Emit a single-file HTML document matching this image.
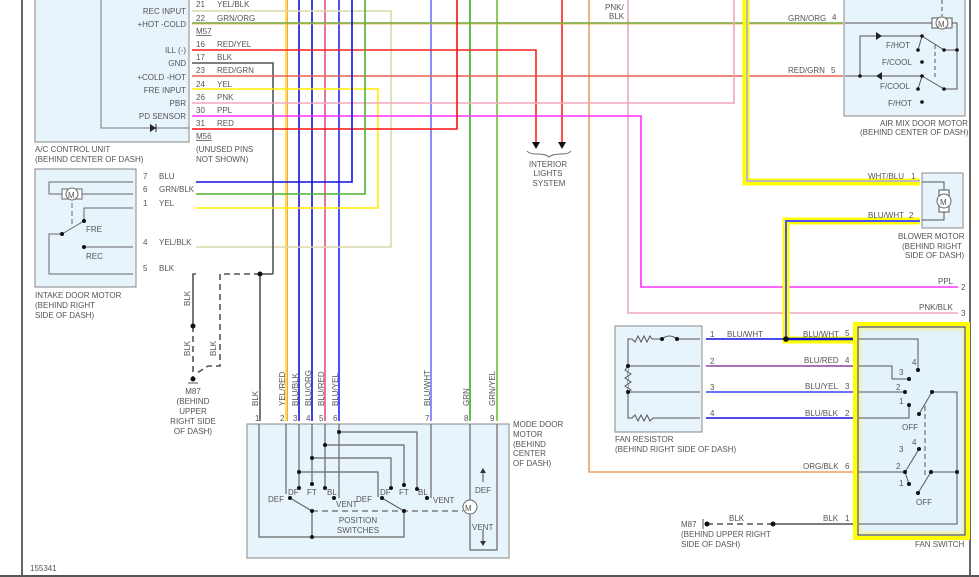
<!DOCTYPE html>
<html><head><meta charset="utf-8"><style>
html,body{margin:0;padding:0;background:#fff}
svg{display:block}
text{font-family:"Liberation Sans",sans-serif;font-size:8px;fill:#555}
</style></head><body>
<svg width="979" height="577" viewBox="0 0 979 577" xmlns="http://www.w3.org/2000/svg">
<rect width="979" height="577" fill="#fff"/>
<!-- frame -->
<line x1="22" y1="0" x2="22" y2="577" stroke="#333" stroke-width="1.5"/>
<line x1="970" y1="0" x2="970" y2="577" stroke="#333" stroke-width="1.5"/>
<line x1="0" y1="576" x2="979" y2="576" stroke="#555" stroke-width="2"/>

<!-- A/C control unit -->
<rect x="35" y="-5" width="154" height="147" fill="#e8f4fc" stroke="#888"/>
<polyline points="101,-5 101,128 189,128" fill="none" stroke="#777"/>
<polygon points="150,124 156,128 150,132" fill="#222"/><line x1="156" y1="124" x2="156" y2="132" stroke="#222"/>
<g text-anchor="end">
<text x="186" y="14">REC INPUT</text><text x="186" y="27">+HOT -COLD</text>
<text x="186" y="53">ILL (-)</text><text x="186" y="66">GND</text><text x="186" y="80">+COLD -HOT</text>
<text x="186" y="93">FRE INPUT</text><text x="186" y="106">PBR</text><text x="186" y="119">PD SENSOR</text>
</g>
<text x="35" y="152">A/C CONTROL UNIT</text><text x="35" y="162">(BEHIND CENTER OF DASH)</text>
<g>
<text x="196" y="7">21</text><text x="217" y="7">YEL/BLK</text>
<text x="196" y="21">22</text><text x="217" y="21">GRN/ORG</text>
<text x="196" y="34" text-decoration="underline">M57</text>
<text x="196" y="47">16</text><text x="217" y="47">RED/YEL</text>
<text x="196" y="60">17</text><text x="217" y="60">BLK</text>
<text x="196" y="73">23</text><text x="217" y="73">RED/GRN</text>
<text x="196" y="87">24</text><text x="217" y="87">YEL</text>
<text x="196" y="100">26</text><text x="217" y="100">PNK</text>
<text x="196" y="113">30</text><text x="217" y="113">PPL</text>
<text x="196" y="126">31</text><text x="217" y="126">RED</text>
<text x="196" y="139" text-decoration="underline">M56</text>
<text x="196" y="152">(UNUSED PINS</text><text x="196" y="162">NOT SHOWN)</text>
</g>

<!-- vertical wires -->
<g fill="none" stroke-width="1.6">
<line x1="286" y1="0" x2="286" y2="421" stroke="#ffe000"/>
<line x1="287.5" y1="0" x2="287.5" y2="421" stroke="#f08060" stroke-width="0.8"/>
<line x1="299" y1="0" x2="299" y2="421" stroke="#1010d0"/>
<line x1="312" y1="0" x2="312" y2="421" stroke="#1010d0"/>
<line x1="325" y1="0" x2="325" y2="421" stroke="#e05080"/>
<line x1="339" y1="0" x2="339" y2="421" stroke="#2020ff"/>
<line x1="431" y1="0" x2="431" y2="421" stroke="#7070ff"/>
<line x1="470" y1="0" x2="470" y2="421" stroke="#30b020"/>
<line x1="497" y1="0" x2="497" y2="421" stroke="#70c030"/>
<line x1="562" y1="0" x2="562" y2="145" stroke="#ff2020"/>
<polyline points="589,0 589,472 853,472" stroke="#f0a060"/>
<polyline points="628,0 628,313 958,313" stroke="#f0a8b8"/>
<!-- horizontal from ACU -->
<polyline points="192,11 391,11 391,247 196,247" stroke="#d8d8a8"/>
<line x1="192" y1="23" x2="843" y2="23" stroke="#60b040"/>
<line x1="192" y1="24" x2="843" y2="24" stroke="#f0a040" stroke-width="0.7"/>
<polyline points="192,50 536,50 536,145" stroke="#ff2020"/>
<polyline points="192,63 273,63 273,274" stroke="#555"/>
<line x1="192" y1="76" x2="843" y2="76" stroke="#e86050"/>
<polyline points="192,89 378,89 378,208 196,208" stroke="#ffee00"/>
<polyline points="192,103 734,103 734,0" stroke="#f4a8b8"/>
<polyline points="192,116 641,116 641,287 958,287" stroke="#ff30ff"/>
<polyline points="192,129 457,129 457,0" stroke="#ff1010"/>
<polyline points="196,182 352,182 352,0" stroke="#1010e0"/>
<polyline points="196,194 365,194 365,0" stroke="#50b030"/>
<polyline points="196,274 193,274 193,326" stroke="#555"/>
<line x1="260" y1="274" x2="260" y2="421" stroke="#555"/>
<line x1="260" y1="274" x2="273" y2="274" stroke="#555"/>
</g>
<g fill="none" stroke="#555" stroke-width="1.6" stroke-dasharray="6,4">
<polyline points="260,274 220,274 220,366 208,366 197,373"/>
<line x1="193" y1="326" x2="193" y2="378"/>
</g>
<circle cx="260" cy="274" r="2.5" fill="#111"/><circle cx="193" cy="326" r="2.5" fill="#111"/><circle cx="193" cy="379" r="2.5" fill="#111"/>
<line x1="188" y1="383" x2="198" y2="383" stroke="#555"/>
<text transform="translate(190,306) rotate(-90)">BLK</text>
<text transform="translate(190,356) rotate(-90)">BLK</text>
<text transform="translate(216,356) rotate(-90)">BLK</text>
<g text-anchor="middle"><text x="193" y="394">M87</text><text x="193" y="404">(BEHIND</text><text x="193" y="414">UPPER</text><text x="193" y="424">RIGHT SIDE</text><text x="193" y="434">OF DASH)</text></g>

<!-- interior lights arrows -->
<polygon points="532,142 540,142 536,149" fill="#111"/><polygon points="558,142 566,142 562,149" fill="#111"/>
<path d="M527,151 q2,3 10,3 q9,0 12,3 q3,-3 12,-3 q8,0 10,-3" fill="none" stroke="#666"/>
<g text-anchor="middle"><text x="548" y="167">INTERIOR</text><text x="548" y="176">LIGHTS</text><text x="549" y="186">SYSTEM</text></g>
<text x="605" y="10">PNK/</text><text x="609" y="19">BLK</text>

<!-- intake door motor -->
<rect x="35" y="169" width="101" height="118" fill="#e8f4fc" stroke="#888"/>
<g fill="none" stroke="#666">
<polyline points="133,182 49,182 49,194 62,194"/><line x1="82" y1="194" x2="133" y2="194"/>
<polyline points="133,208 84,208 84,221"/>
<polyline points="62,234 49,234 49,274 133,274"/>
<line x1="84" y1="247" x2="133" y2="247"/>
<line x1="62" y1="234" x2="84" y2="221"/>
<line x1="72" y1="203" x2="72" y2="224" stroke-dasharray="5,3"/>
</g>
<rect x="62" y="189" width="20" height="10" fill="#fff" stroke="#666"/>
<circle cx="72" cy="194" r="6" fill="#fff" stroke="#666"/><text x="68" y="198" fill="#903060">M</text>
<circle cx="62" cy="234" r="2" fill="#111"/><circle cx="84" cy="221" r="2" fill="#111"/><circle cx="84" cy="247" r="2" fill="#111"/>
<text x="86" y="232">FRE</text><text x="86" y="259">REC</text>
<text x="35" y="298">INTAKE DOOR MOTOR</text><text x="35" y="308">(BEHIND RIGHT</text><text x="35" y="318">SIDE OF DASH)</text>
<text x="143" y="179">7</text><text x="159" y="179">BLU</text>
<text x="143" y="192">6</text><text x="159" y="192">GRN/BLK</text>
<text x="143" y="206">1</text><text x="159" y="206">YEL</text>
<text x="143" y="245">4</text><text x="159" y="245">YEL/BLK</text>
<text x="143" y="271">5</text><text x="159" y="271">BLK</text>

<!-- mode door motor -->
<rect x="247" y="424" width="262" height="134" fill="#e8f4fc" stroke="#888"/>
<g fill="none" stroke="#666" stroke-width="1.2">
<polyline points="259,424 259,537 404,537 404,511"/><line x1="312" y1="537" x2="312" y2="511"/>
<line x1="286" y1="424" x2="286" y2="494"/>
<line x1="299" y1="424" x2="299" y2="488"/><polyline points="299,472 378,472 378,497"/>
<line x1="312" y1="424" x2="312" y2="484"/><polyline points="312,458 391,458 391,488"/>
<line x1="325" y1="424" x2="325" y2="488"/><polyline points="325,445 404,445 404,485"/>
<polyline points="339,424 339,498"/><polyline points="339,432 417,432 417,489"/>
<line x1="431" y1="424" x2="431" y2="498"/>
<line x1="290" y1="498" x2="312" y2="511"/><line x1="382" y1="498" x2="404" y2="511"/>
<line x1="312" y1="511" x2="463" y2="511" stroke-dasharray="6,4"/>
<polyline points="470,424 470,500"/><polyline points="470,514 470,550 497,550 497,424"/>
<line x1="483" y1="482" x2="483" y2="471"/><line x1="483" y1="530" x2="483" y2="543"/>
</g>
<polygon points="480,473 486,473 483,468" fill="#333"/><polygon points="480,541 486,541 483,546" fill="#333"/>
<circle cx="470" cy="507" r="7" fill="#fff" stroke="#666"/><text x="465" y="511" fill="#333">M</text>
<g fill="#111">
<circle cx="299" cy="472" r="2"/><circle cx="312" cy="458" r="2"/><circle cx="325" cy="445" r="2"/><circle cx="339" cy="432" r="2"/>
<circle cx="290" cy="498" r="2"/><circle cx="299" cy="488" r="2"/><circle cx="312" cy="484" r="2"/><circle cx="325" cy="488" r="2"/><circle cx="334" cy="498" r="2"/>
<circle cx="382" cy="498" r="2"/><circle cx="391" cy="488" r="2"/><circle cx="404" cy="485" r="2"/><circle cx="417" cy="489" r="2"/><circle cx="427" cy="498" r="2"/>
<circle cx="312" cy="511" r="2"/><circle cx="404" cy="511" r="2"/><circle cx="312" cy="537" r="2"/>
</g>
<g><text x="268" y="502">DEF</text><text x="288" y="495">DF</text><text x="307" y="495" fill="#3080c0">FT</text><text x="327" y="495">BL</text><text x="336" y="507">VENT</text>
<text x="356" y="502">DEF</text><text x="380" y="495">DF</text><text x="399" y="495" fill="#3080c0">FT</text><text x="418" y="495">BL</text><text x="433" y="503">VENT</text>
<text x="475" y="493">DEF</text><text x="472" y="530">VENT</text></g>
<g text-anchor="middle"><text x="358" y="523">POSITION</text><text x="358" y="533">SWITCHES</text></g>
<g><text x="255" y="421">1</text><text x="280" y="421">2</text><text x="293" y="421">3</text><text x="306" y="421">4</text><text x="319" y="421">5</text><text x="333" y="421">6</text><text x="425" y="421">7</text><text x="464" y="421">8</text><text x="490" y="421">9</text></g>
<g><text transform="translate(258,406) rotate(-90)">BLK</text><text transform="translate(285,406) rotate(-90)">YEL/RED</text><text transform="translate(298,406) rotate(-90)">BLU/BLK</text><text transform="translate(311,406) rotate(-90)">BLU/ORG</text><text transform="translate(324,406) rotate(-90)">BLU/RED</text><text transform="translate(338,406) rotate(-90)">BLU/YEL</text><text transform="translate(430,406) rotate(-90)">BLU/WHT</text><text transform="translate(469,406) rotate(-90)">GRN</text><text transform="translate(495,406) rotate(-90)">GRN/YEL</text></g>
<text x="513" y="427">MODE DOOR</text><text x="513" y="437">MOTOR</text><text x="513" y="447">(BEHIND</text><text x="513" y="456">CENTER</text><text x="513" y="466">OF DASH)</text>

<!-- highlighted WHT/BLU & BLU/WHT -->
<polyline points="746,0 746,182 920,182" fill="none" stroke="#ffff00" stroke-width="7"/>
<polyline points="747,0 747,181 920,181" fill="none" stroke="#bbb" stroke-width="2"/>
<polyline points="920,221 786,221 786,340 853,340" fill="none" stroke="#ffff00" stroke-width="7"/>
<polyline points="920,221 786,221 786,340" fill="none" stroke="#5050ff" stroke-width="2"/>
<line x1="706" y1="339" x2="786" y2="339" stroke="#1010e0" stroke-width="1.6"/>
<line x1="786" y1="339" x2="853" y2="339" stroke="#1010e0" stroke-width="2.5"/>
<circle cx="786" cy="339" r="2.8" fill="#111"/>

<!-- air mix -->
<rect x="844" y="-5" width="121" height="121" fill="#e8f4fc" stroke="#888"/>
<g fill="none" stroke="#555">
<line x1="845" y1="23" x2="935" y2="23"/><polyline points="949,23 957,23 957,89 944,89"/><line x1="944" y1="50" x2="957" y2="50"/>
<line x1="942" y1="0" x2="942" y2="16" stroke-dasharray="4,3"/>
<polyline points="922,36 860,36 860,76"/><line x1="845" y1="76" x2="922" y2="76"/>
<line x1="922" y1="36" x2="944" y2="50"/><line x1="922" y1="36" x2="918" y2="50"/>
<line x1="922" y1="76" x2="944" y2="89"/><line x1="922" y1="76" x2="918" y2="89"/>
<line x1="935" y1="45" x2="935" y2="80" stroke-dasharray="4,3"/>
</g>
<polygon points="876,32 882,36 876,40" fill="#222"/><polygon points="882,72 876,76 882,80" fill="#222"/>
<rect x="932" y="18" width="20" height="10" fill="#fff" stroke="#555"/><circle cx="942" cy="23" r="6" fill="#fff" stroke="#666"/><text x="938" y="27" fill="#903060">M</text>
<g fill="#111"><circle cx="922" cy="36" r="1.8"/><circle cx="918" cy="50" r="1.8"/><circle cx="944" cy="50" r="1.8"/><circle cx="957" cy="50" r="1.8"/><circle cx="922" cy="62" r="1.8"/><circle cx="860" cy="76" r="1.8"/><circle cx="922" cy="76" r="1.8"/><circle cx="918" cy="89" r="1.8"/><circle cx="944" cy="89" r="1.8"/><circle cx="922" cy="102" r="1.8"/></g>
<text x="886" y="48">F/HOT</text><text x="882" y="65">F/COOL</text><text x="880" y="89">F/COOL</text><text x="888" y="106">F/HOT</text>
<text x="788" y="21">GRN/ORG</text><text x="832" y="20">4</text><text x="788" y="73">RED/GRN</text><text x="831" y="73">5</text>
<text x="880" y="126">AIR MIX DOOR MOTOR</text><text x="860" y="135">(BEHIND CENTER OF DASH)</text>

<!-- blower -->
<rect x="922" y="173" width="41" height="55" fill="#e8f4fc" stroke="#888"/>
<polyline points="922,182 944,182 944,190" fill="none" stroke="#555"/><polyline points="944,212 944,220 922,220" fill="none" stroke="#555"/>
<rect x="939" y="190" width="10" height="22" fill="#fff" stroke="#555"/><circle cx="944" cy="201" r="7" fill="#fff" stroke="#666"/><text x="940" y="205" fill="#333">M</text>
<text x="868" y="179">WHT/BLU</text><text x="911" y="179">1</text><text x="868" y="218">BLU/WHT</text><text x="909" y="218">2</text>
<text x="898" y="239">BLOWER MOTOR</text><text x="902" y="249">(BEHIND RIGHT</text><text x="905" y="258">SIDE OF DASH)</text>
<text x="938" y="284">PPL</text><text x="961" y="290">2</text>
<text x="919" y="310">PNK/BLK</text><text x="961" y="316">3</text>

<!-- fan resistor -->
<rect x="615" y="326" width="87" height="106" fill="#e8f4fc" stroke="#888"/>
<g fill="none" stroke="#555">
<polyline points="700,339 677,339"/><path d="M662,339 q7,-6 15,0"/><polyline points="662,339 652,339 650,336 647,342 644,336 641,342 638,336 635,342 632,339 628,339 628,418 632,418 635,415 638,421 641,415 644,421 647,415 650,421 653,418 700,418"/>
<line x1="628" y1="366" x2="700" y2="366"/><line x1="628" y1="392" x2="700" y2="392"/>
<polyline points="628,366 625,370 631,374 625,378 631,382 625,386 631,390 628,392" fill="#e8f4fc"/>
</g>
<g fill="#111"><circle cx="662" cy="339" r="2"/><circle cx="677" cy="339" r="2"/><circle cx="628" cy="366" r="2"/><circle cx="628" cy="392" r="2"/></g>
<g stroke-width="1.6"><line x1="706" y1="366" x2="853" y2="366" stroke="#9040a0"/><line x1="706" y1="392" x2="853" y2="392" stroke="#4040ff"/><line x1="706" y1="418" x2="853" y2="418" stroke="#1010e0"/></g>
<text x="710" y="337">1</text><text x="727" y="337">BLU/WHT</text><text x="710" y="364">2</text><text x="710" y="390">3</text><text x="710" y="416">4</text>
<text x="615" y="442">FAN RESISTOR</text><text x="615" y="452">(BEHIND RIGHT SIDE OF DASH)</text>

<!-- fan switch -->
<rect x="855" y="324" width="113" height="214" fill="#eef0c0" stroke="#ffff00" stroke-width="4"/>
<rect x="858" y="327" width="107" height="208" fill="none" stroke="#333"/>
<rect x="862" y="331" width="100" height="200" fill="#e4f2fb"/>
<g fill="none" stroke="#555">
<polyline points="859,339 918,339 918,370"/><polyline points="859,366 892,366 892,379 909,379"/><line x1="859" y1="392" x2="905" y2="392"/><polyline points="859,418 909,418 909,405"/>
<polyline points="919,414 932,392 957,392 957,524 859,524"/>
<line x1="859" y1="472" x2="905" y2="472"/><line x1="905" y1="472" x2="919" y2="449"/><line x1="905" y1="472" x2="909" y2="484"/>
<polyline points="957,472 931,472 918,493"/>
<line x1="925" y1="406" x2="925" y2="478" stroke-dasharray="5,3"/>
</g>
<g fill="#111"><circle cx="918" cy="370" r="2"/><circle cx="909" cy="379" r="2"/><circle cx="905" cy="392" r="2"/><circle cx="909" cy="405" r="2"/><circle cx="919" cy="414" r="2"/><circle cx="932" cy="392" r="2"/>
<circle cx="919" cy="449" r="2"/><circle cx="905" cy="472" r="2"/><circle cx="909" cy="484" r="2"/><circle cx="931" cy="472" r="2"/><circle cx="918" cy="493" r="2"/><circle cx="957" cy="472" r="2"/></g>
<text x="912" y="365">4</text><text x="899" y="375">3</text><text x="896" y="390">2</text><text x="899" y="404">1</text><text x="902" y="430">OFF</text>
<text x="912" y="445">4</text><text x="899" y="452">3</text><text x="896" y="469">2</text><text x="899" y="486">1</text><text x="916" y="505">OFF</text>
<text x="803" y="337">BLU/WHT</text><text x="845" y="336">5</text>
<text x="804" y="363">BLU/RED</text><text x="845" y="363">4</text>
<text x="805" y="389">BLU/YEL</text><text x="845" y="389">3</text>
<text x="805" y="416">BLU/BLK</text><text x="845" y="416">2</text>
<text x="803" y="469">ORG/BLK</text><text x="845" y="469">6</text>
<text x="823" y="521">BLK</text><text x="845" y="521">1</text>
<text x="915" y="547">FAN SWITCH</text>
<line x1="707" y1="524" x2="773" y2="524" stroke="#555" stroke-width="1.6" stroke-dasharray="6,4"/>
<line x1="773" y1="524" x2="853" y2="524" stroke="#555" stroke-width="1.6"/>
<circle cx="707" cy="524" r="2.5" fill="#111"/><circle cx="773" cy="524" r="2.5" fill="#111"/>
<line x1="703" y1="519" x2="703" y2="529" stroke="#555"/>
<text x="729" y="521">BLK</text>
<text x="681" y="527">M87</text><text x="681" y="537">(BEHIND UPPER RIGHT</text><text x="681" y="547">SIDE OF DASH)</text>

<text x="30" y="571" fill="#333">155341</text>
</svg>
</body></html>
